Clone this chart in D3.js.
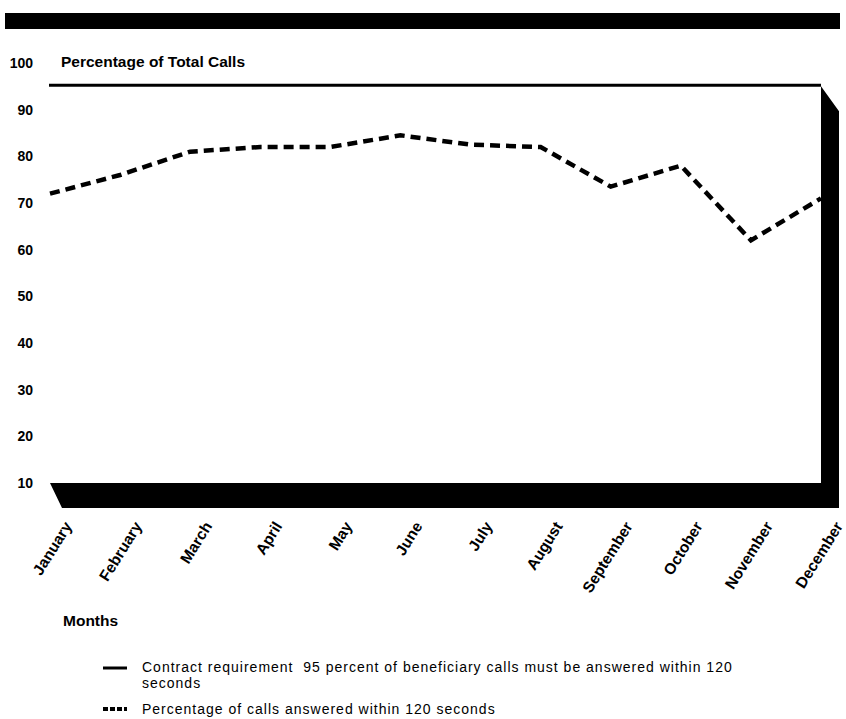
<!DOCTYPE html>
<html>
<head>
<meta charset="utf-8">
<script src="https://cdn.jsdelivr.net/npm/d3@7"></script>
<style>
  body { margin: 0; background: #fff; }
  svg { display: block; font-family: "Liberation Sans", Arial, sans-serif; }
  .tick text { font-weight: bold; font-size: 14px; fill: #000; }
  .months .tick text { font-size: 15.5px; }
  .lbl { font-weight: bold; font-size: 15.5px; }
  .leg { font-size: 14px; letter-spacing: 1px; white-space: pre; }
</style>
</head>
<body>
<svg id="chart"></svg>
<script>
// data
var months = ["January","February","March","April","May","June","July","August","September","October","November","December"]
var answered = [72, 76, 81, 82, 82, 84.5, 82.5, 82, 73.5, 78, 62, 71]
var requirement = 95
var yTicks = [10, 20, 30, 40, 50, 60, 70, 80, 90, 100]
var legendText = ["Contract requirement  95 percent of beneficiary calls must be answered within 120", "seconds", "Percentage of calls answered within 120 seconds"]

var screen = {width: 846, height: 719}
var svg = d3.select("#chart")
    .attr("width", screen.width)
    .attr("height", screen.height)

var xScale = d3.scalePoint()
    .domain(months)
    .range([50, 821])
var yScale = d3.scaleLinear()
    .domain([10, 100])
    .range([483, 63])

// black banner at top
svg.append("rect")
    .attr("x", 5).attr("y", 13)
    .attr("width", 835).attr("height", 16)
    .attr("fill", "#000")

// 3d floor + right wall
var x0 = xScale(months[0]), x1 = xScale(months[months.length - 1])
var yb = yScale(10), yt = yScale(requirement)
var dx = 18, dy = 25
svg.append("path")
    .attr("d", "M" + x0 + "," + yb + "L" + x1 + "," + yb + "L" + x1 + "," + yt +
        "L" + (x1 + dx) + "," + (yt + dy) + "L" + (x1 + dx) + "," + (yb + dy) +
        "L" + (x0 + 12) + "," + (yb + dy) + "Z")
    .attr("fill", "#000")

// requirement line
svg.append("line")
    .attr("x1", x0 - 1).attr("x2", x1)
    .attr("y1", yt - 1).attr("y2", yt - 1)
    .attr("stroke", "#000")
    .attr("stroke-width", 3)

// answered line
var lineGen = d3.line()
    .x(function(d, i) { return xScale(months[i]) })
    .y(function(d) { return yScale(d) })
svg.append("path")
    .datum(answered)
    .attr("d", lineGen)
    .attr("fill", "none")
    .attr("stroke", "#000")
    .attr("stroke-width", 4.5)
    .attr("stroke-dasharray", "10,6")

// y axis labels
var yAxis = d3.axisLeft(yScale).tickValues(yTicks).tickSize(0).tickPadding(0)
svg.append("g")
    .attr("transform", "translate(33,0)")
    .call(yAxis)
    .call(function(g) { g.select(".domain").remove() })

// month labels
var xAxis = d3.axisBottom(xScale).tickSize(0)
svg.append("g")
    .classed("months", true)
    .call(xAxis)
    .call(function(g) { g.select(".domain").remove() })
    .selectAll("text")
    .attr("text-anchor", "end")
    .attr("dy", 0)
    .attr("y", 0)
    .attr("transform", "translate(22,526) rotate(-58)")

svg.append("text")
    .attr("class", "lbl")
    .attr("x", 61).attr("y", 67)
    .text("Percentage of Total Calls")

svg.append("text")
    .attr("class", "lbl")
    .attr("x", 63).attr("y", 626)
    .text("Months")

// legend
var leg = svg.append("g")
leg.append("line")
    .attr("x1", 103).attr("x2", 127)
    .attr("y1", 668).attr("y2", 668)
    .attr("stroke", "#000").attr("stroke-width", 3)
leg.append("line")
    .attr("x1", 103).attr("x2", 127)
    .attr("y1", 709).attr("y2", 709)
    .attr("stroke", "#000").attr("stroke-width", 4)
    .attr("stroke-dasharray", "5,2")
leg.selectAll("text.leg")
    .data(legendText)
    .enter()
    .append("text")
    .attr("class", "leg")
    .attr("x", 142)
    .attr("y", function(d, i) { return [672, 688, 714][i] })
    .text(function(d) { return d })
</script>
</body>
</html>
